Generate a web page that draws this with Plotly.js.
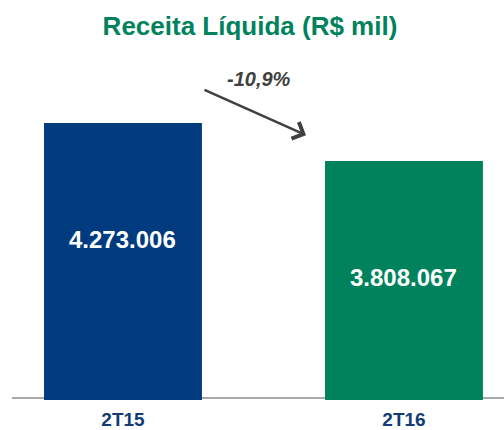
<!DOCTYPE html>
<html>
<head>
<meta charset="utf-8">
<script src="https://cdn.plot.ly/plotly-3.0.1.min.js"></script>
<style>html,body{margin:0;padding:0;background:#fff;}#chart{width:504px;height:430px;}</style>
</head>
<body>
<div id="chart"></div>
<script>
const categories = ['2T15', '2T16'];
const values = [4273006, 3808067];
const barColors = ['#003B80', '#00835C'];
const changeLabel = '-10,9%';
const titleText = 'Receita Líquida (R$ mil)';

function fmt(v) {
  return String(Math.round(v)).replace(/\B(?=(\d{3})+(?!\d))/g, '.');
}

const xIdx = categories.map((c, i) => i);

const trace = {
  type: 'bar',
  x: xIdx,
  y: values,
  width: 0.562,
  marker: { color: barColors, line: { width: 0 } },
  hoverinfo: 'skip'
};

const annotations = values.map((v, i) => ({
  x: i, y: v, xref: 'x', yref: 'y',
  text: fmt(v), showarrow: false,
  yanchor: 'middle', yshift: -116,
  font: { family: 'Arial, Liberation Sans, sans-serif', size: 24, color: '#ffffff', weight: 'bold' }
}));

annotations.push({
  xref: 'paper', yref: 'paper', x: 0.5976, y: 0.779,
  ax: -103, ay: -46, axref: 'pixel', ayref: 'pixel',
  text: '', showarrow: true, arrowhead: 4, arrowsize: 1.4, arrowwidth: 2.5, arrowcolor: '#404040'
});
annotations.push({
  xref: 'paper', yref: 'paper', x: 0.502, y: 0.943,
  text: '<i>' + changeLabel + '</i>', showarrow: false,
  xanchor: 'center', yanchor: 'middle',
  font: { family: 'Arial, Liberation Sans, sans-serif', size: 20, color: '#404040', weight: 'bold' }
});

const layout = {
  width: 504, height: 430,
  margin: { l: 12, r: 0, t: 60, b: 30 },
  paper_bgcolor: '#ffffff', plot_bgcolor: '#ffffff',
  showlegend: false,
  title: {
    text: titleText, x: 0.496, xanchor: 'center', y: 0.9395, yanchor: 'middle', yref: 'container',
    font: { family: 'Arial, Liberation Sans, sans-serif', size: 26, color: '#00835C', weight: 'bold' }
  },
  xaxis: {
    range: [-0.395, 1.356],
    tickvals: xIdx, ticktext: categories,
    showgrid: false, zeroline: false, showline: false,
    ticks: '', ticklabelstandoff: 6,
    tickfont: { family: 'Arial, Liberation Sans, sans-serif', size: 19, color: '#123C73', weight: 'bold' },
    fixedrange: true
  },
  yaxis: {
    range: [884000, 5044000], visible: false, showgrid: false, zeroline: false, fixedrange: true
  },
  shapes: [{
    type: 'line', xref: 'paper', yref: 'paper', x0: 0, x1: 1, y0: 0.0059, y1: 0.0059,
    line: { color: '#8C8C8C', width: 1.5 }, layer: 'below'
  }],
  annotations: annotations
};

Plotly.newPlot('chart', [trace], layout, { displayModeBar: false, staticPlot: true });
</script>
</body>
</html>
